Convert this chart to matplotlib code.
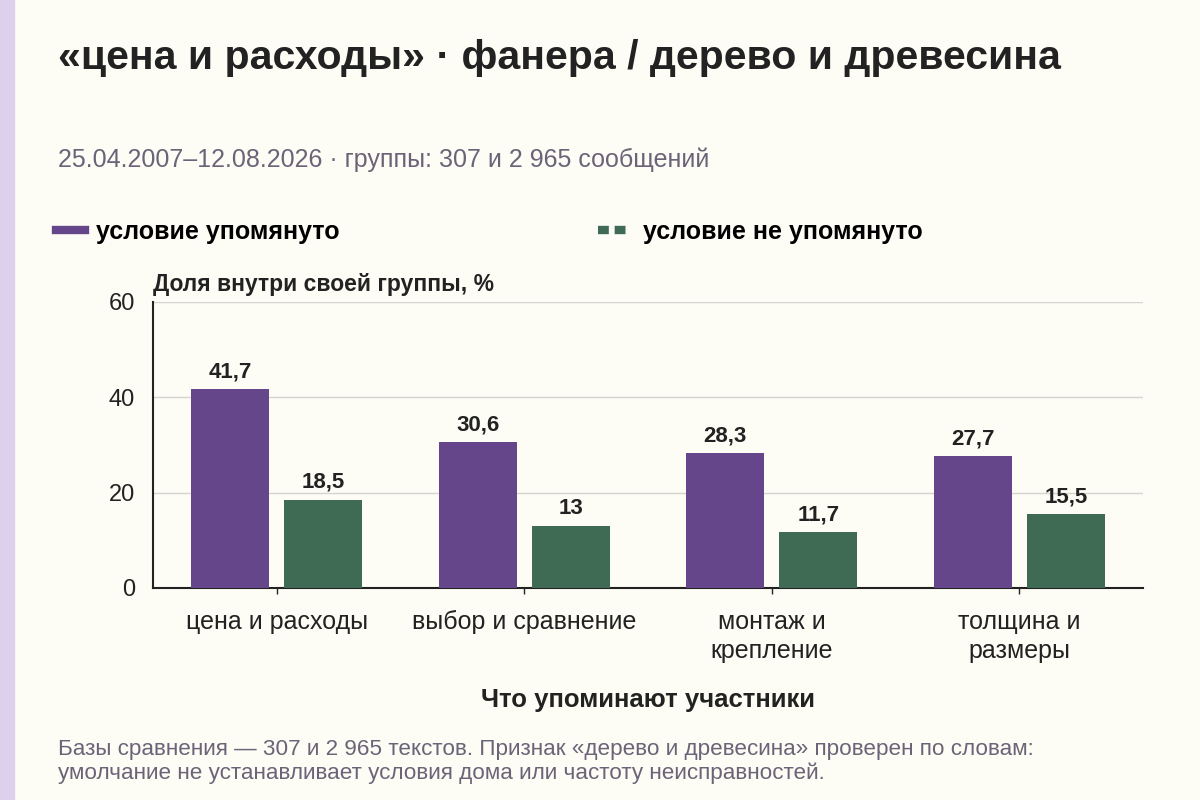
import matplotlib
matplotlib.use("Agg")
import matplotlib.pyplot as plt
import numpy as np
from matplotlib.lines import Line2D
from matplotlib.patches import Rectangle

categories = ["цена и расходы", "выбор и сравнение", "монтаж и\nкрепление", "толщина и\nразмеры"]
mentioned = [41.7, 30.6, 28.3, 27.7]
not_mentioned = [18.5, 13, 11.7, 15.5]
yticks = [0, 20, 40, 60]

PURPLE = "#66468a"
GREEN = "#3f6b55"
BG = "#fdfcf5"
STRIPE = "#dcd0ec"
TXT = "#222222"
GREY = "#6b6478"

plt.rcParams["font.family"] = ["Liberation Sans", "DejaVu Sans"]

fig = plt.figure(figsize=(12, 8), dpi=100, facecolor=BG)
fig.patches.append(Rectangle((0, 0), 14 / 1200, 1, transform=fig.transFigure,
                             color=STRIPE, zorder=0))

ax = fig.add_axes([153 / 1200, 1 - 588 / 800, 990 / 1200, 286 / 800])
ax.set_facecolor(BG)

x = np.arange(len(categories))
w = 0.315
off = 0.188
b1 = ax.bar(x - off, mentioned, w, color=PURPLE, zorder=3)
b2 = ax.bar(x + off, not_mentioned, w, color=GREEN, zorder=3)

def fmt(v):
    return f"{v:g}".replace(".", ",")

for bars, vals in ((b1, mentioned), (b2, not_mentioned)):
    for r, v in zip(bars, vals):
        ax.annotate(fmt(v), (r.get_x() + r.get_width() / 2, v), xytext=(0, 5),
                    textcoords="offset points", ha="center", va="bottom",
                    fontsize=16, fontweight="bold", color=TXT)

ax.set_xlim(-0.5, 3.5)
ax.set_ylim(0, 60)
ax.set_yticks(yticks)
ax.set_xticks(x)
ax.set_xticklabels(categories, fontsize=18, color=TXT, linespacing=1.25)
ax.tick_params(axis="y", labelsize=17, colors=TXT, length=0, pad=13)
ax.tick_params(axis="x", length=4, width=1, color=TXT, pad=12)
ax.grid(axis="y", color="#d4d4d0", linewidth=1, zorder=0)
for s in ("top", "right"):
    ax.spines[s].set_visible(False)
for s in ("left", "bottom"):
    ax.spines[s].set_color(TXT)
    ax.spines[s].set_linewidth(1.5)

ax.set_xlabel("Что упоминают участники", fontsize=18.5, fontweight="bold",
              color=TXT, labelpad=18)

fig.text(58 / 1200, 1 - 58 / 800, "«цена и расходы» · фанера / дерево и древесина",
         fontsize=29.5, fontweight="bold", color=TXT, va="center")
fig.text(58 / 1200, 1 - 160 / 800,
         "25.04.2007–12.08.2026 · группы: 307 и 2 965 сообщений",
         fontsize=18, color=GREY, va="center")
fig.text(153 / 1200, 1 - 284 / 800, "Доля внутри своей группы, %",
         fontsize=16.5, fontweight="bold", color=TXT, va="center")

leg_font = {"weight": "bold", "size": 18}
fig.legend([Line2D([], [], color=PURPLE, linewidth=6)], ["условие упомянуто"],
           loc="center left", bbox_to_anchor=(56 / 1200, 1 - 232 / 800),
           frameon=False, prop=leg_font, borderpad=0, borderaxespad=0,
           handlelength=1.15, handletextpad=0.45)
fig.legend([Line2D([], [], color=GREEN, linewidth=6, linestyle=(0, (1.3, 0.7)))],
           ["условие не упомянуто"],
           loc="center left", bbox_to_anchor=(598 / 1200, 1 - 232 / 800),
           frameon=False, prop=leg_font, borderpad=0, borderaxespad=0,
           handlelength=1.3, handletextpad=0.5)

fig.text(58 / 1200, 1 - 750 / 800,
         "Базы сравнения — 307 и 2 965 текстов. Признак «дерево и древесина» проверен по словам:",
         fontsize=16.2, color=GREY, va="center")
fig.text(58 / 1200, 1 - 773 / 800,
         "умолчание не устанавливает условия дома или частоту неисправностей.",
         fontsize=16.2, color=GREY, va="center")

fig.savefig("out.png", dpi=100, facecolor=BG)
